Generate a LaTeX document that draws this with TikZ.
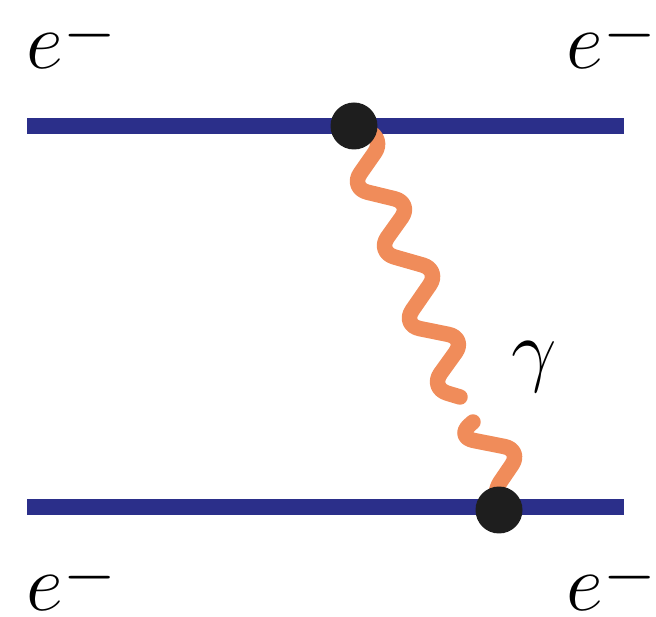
\documentclass[tikz,border=0pt]{standalone}
\usepackage{amsmath,amssymb}
\usepackage{graphicx}
\usepackage{xcolor}
\usepackage{tikz}
\usetikzlibrary{arrows.meta,positioning,calc}

\definecolor{elecblue}{RGB}{43,47,138}
\definecolor{photonorange}{RGB}{240,140,90}
\definecolor{vertexblack}{RGB}{30,30,30}
\newcommand{\biglabel}[1]{\scalebox{1.85}{\Huge $#1$}}
\newcommand{\elec}{e^{\raisebox{-4pt}{$\scriptstyle -$}}}

\begin{document}
\begin{tikzpicture}[x=0.02cm,y=-0.02cm,
  fermion/.style={elecblue,line width=0.32cm},
  photon/.style={photonorange,line width=0.31cm,line cap=round,line join=round,rounded corners=0.36cm},
  vertex/.style={circle,fill=vertexblack,inner sep=0pt,minimum size=0.94cm},
  lbl/.style={inner sep=0pt}]
  \useasboundingbox (0,0) rectangle (656,617);
  \coordinate (v1) at (354,126);
  \coordinate (v2) at (499,510);
  \coordinate (ta) at (27,126);
  \coordinate (tb) at (624,126);
  \coordinate (ba) at (27,507);
  \coordinate (bb) at (624,507);
  \draw[fermion] (ta)--(tb);
  \draw[fermion] (ba)--(bb);
  \draw[photon] (v1)--(385,138)--(350,188)--(412,203)--(377,252)--(440,270)
    --(402,325)--(466,338)--(430,388)--(460,397);
  \draw[photon] (473,422)--(456,437)--(522,450)--(490,497)--(v2);
  \node[vertex] (d1) at (v1) {};
  \node[vertex] (d2) at (v2) {};
  \node[lbl,anchor=base west] (e1) at (26,69) {\biglabel{\elec}};
  \node[lbl,anchor=base west] (e2) at (566,69) {\biglabel{\elec}};
  \node[lbl,anchor=base west] (e3) at (26,611) {\biglabel{\elec}};
  \node[lbl,anchor=base west] (e4) at (566,611) {\biglabel{\elec}};
  \node[lbl,anchor=base west] (g) at (511,377) {\biglabel{\gamma}};
\end{tikzpicture}
\end{document}
